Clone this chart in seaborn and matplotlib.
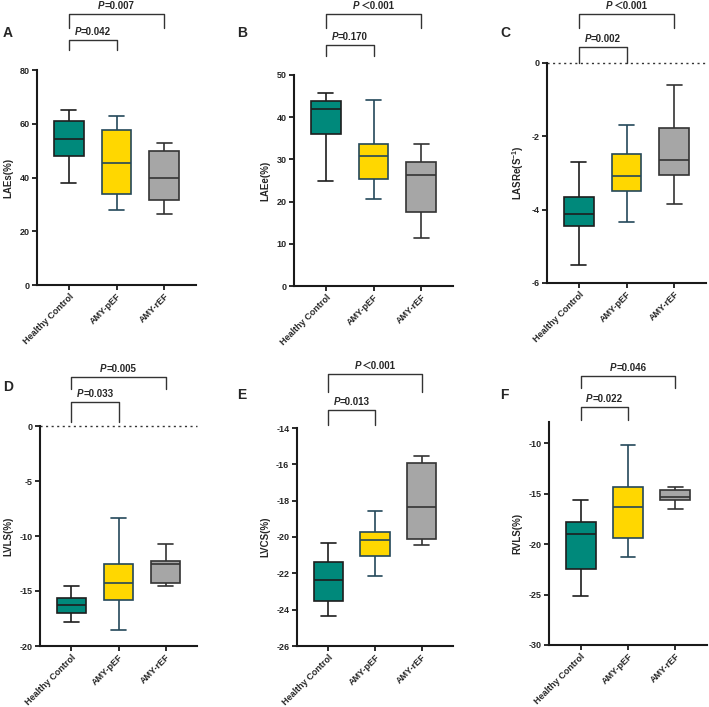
import pandas as pd
import matplotlib.pyplot as plt
import seaborn as sns
from matplotlib.transforms import blended_transform_factory, offset_copy

sns.set_style("ticks")
plt.rcParams['font.family'] = ['Liberation Sans', 'Noto Sans CJK SC', 'DejaVu Sans']
plt.rcParams['font.weight'] = 'bold'
plt.rcParams['mathtext.fontset'] = 'custom'
plt.rcParams['mathtext.it'] = 'Liberation Sans:italic:bold'
plt.rcParams['mathtext.rm'] = 'Liberation Sans:bold'

groups = ['Healthy Control', 'AMY-pEF', 'AMY-rEF']
fill_colors = ['#00897B', '#FFD700', '#A6A6A6']
edge_colors = ['#1E1E1E', '#24485A', '#333333']

# five-number summaries: min, Q1, median, Q3, max
laes = [[38, 48, 54.5, 61, 65], [28, 34, 45.5, 57.5, 63], [26.5, 31.5, 40, 50, 53]]
laee = [[25, 36, 42, 43.8, 45.8], [20.5, 25.3, 30.8, 33.6, 44], [11.3, 17.6, 26.3, 29.5, 33.6]]
lasre = [[-5.5, -4.45, -4.12, -3.65, -2.7], [-4.35, -3.5, -3.08, -2.48, -1.7], [-3.85, -3.05, -2.65, -1.77, -0.6]]
lvls = [[-17.8, -17.0, -16.3, -15.6, -14.5], [-18.5, -15.8, -14.3, -12.5, -8.4], [-14.5, -14.25, -12.5, -12.3, -10.7]]
lvcs = [[-24.35, -23.5, -22.35, -21.4, -20.35], [-22.15, -21.05, -20.15, -19.7, -18.55], [-20.45, -20.1, -18.35, -15.9, -15.55]]
rvls = [[-25.1, -22.5, -19.0, -17.8, -15.6], [-21.3, -19.4, -16.3, -14.3, -10.2], [-16.5, -15.6, -15.3, -14.6, -14.3]]

panels = ['A', 'B', 'C', 'D', 'E', 'F']
ylabels = ['LAEs(%)', 'LAEe(%)', r'LASRe(S$^{-1}$)', 'LVLS(%)', 'LVCS(%)', 'RVLS(%)']
p_near = ['=0.042', '=0.170', '=0.002', '=0.033', '=0.013', '=0.022']
p_far = ['=0.007', '＜0.001', '＜0.001', '=0.005', '＜0.001', '=0.046']
ylims = [(0, 80), (0, 50), (-6, 0), (-20, 0), (-26, -14), (-30, -7.9)]
yticks = [[0, 20, 40, 60, 80], [0, 10, 20, 30, 40, 50], [-6, -4, -2, 0],
          [-20, -15, -10, -5, 0], [-26, -24, -22, -20, -18, -16, -14], [-30, -25, -20, -15, -10]]
zero_line = [False, False, True, True, False, False]
all_data = [laes, laee, lasre, lvls, lvcs, rvls]

W, H = 709, 707
# axes boxes in pixels: left, top, right, bottom
boxes = [(37, 70, 196, 285), (294, 75, 453, 286), (547, 63, 706, 283),
         (40, 426, 197, 646), (297, 428, 453, 646), (549, 422, 707, 645)]
# bracket pixel rows: far bar, far leg end, near bar, near leg end
brackets = [(14, 28, 40, 50), (14, 28, 45, 56), (14, 28, 47, 63),
            (377, 389, 402, 422), (374, 392, 410, 425), (376, 388, 407, 420)]
letters = [(3, 33), (237, 33), (500, 33), (3, 387), (237, 395), (500, 395)]

fig = plt.figure(figsize=(W / 100, H / 100), dpi=100)
renderer = fig.canvas.get_renderer()


def p_label(ax, x, y, rest, tr):
    # italic bold "P" followed by the bold value, centred on x
    t1 = ax.text(x, y, 'P', transform=tr, fontsize=7, fontweight='bold', style='italic',
                 ha='left', va='bottom')
    t2 = ax.text(x, y, rest, transform=tr, fontsize=7, fontweight='bold',
                 ha='left', va='bottom')
    w1 = t1.get_window_extent(renderer).width
    w2 = t2.get_window_extent(renderer).width
    total = w1 + w2
    t1.set_transform(offset_copy(tr, fig=fig, x=-total / 2, units='dots'))
    t2.set_transform(offset_copy(tr, fig=fig, x=-total / 2 + w1, units='dots'))


for i in range(6):
    l, t, r, b = boxes[i]
    ax = fig.add_axes([l / W, 1 - b / H, (r - l) / W, (b - t) / H])
    rows = []
    for g, vals in zip(groups, all_data[i]):
        for v in vals:
            rows.append({'group': g, 'value': v})
    df = pd.DataFrame(rows)
    sns.boxplot(data=df, x='group', y='value', hue='group', order=groups,
                palette=fill_colors, saturation=1, whis=(0, 100), width=0.63,
                linewidth=1.2, linecolor='#1E1E1E', legend=False, ax=ax)

    # per-group edge colours
    for j, patch in enumerate(ax.patches):
        patch.set_edgecolor(edge_colors[j])
    nl = len(ax.lines) // 3
    for j in range(3):
        for ln in ax.lines[j * nl:(j + 1) * nl]:
            ln.set_color(edge_colors[j])
            ln.set_linewidth(1.2)

    if zero_line[i]:
        ax.axhline(0, ls=(0, (1.5, 2.5)), color='#333333', lw=1, clip_on=False, zorder=0)

    ax.set_xlim(-0.67, 2.67)
    ax.set_ylim(*ylims[i])
    ax.set_yticks(yticks[i])
    ax.set_yticklabels([str(v) for v in yticks[i]], fontsize=6.5, fontweight='bold')
    ax.set_xticks(range(3))
    ax.set_xticklabels(groups, rotation=45, ha='right', rotation_mode='anchor',
                       fontsize=6.5, fontweight='bold')
    ax.set_xlabel('')
    ax.set_ylabel(ylabels[i], fontsize=7, fontweight='bold', labelpad=4)
    for s in ['top', 'right']:
        ax.spines[s].set_visible(False)
    for s in ['left', 'bottom']:
        ax.spines[s].set_linewidth(1.5)
        ax.spines[s].set_color('#1a1a1a')
    ax.tick_params(width=1.3, length=3.5, pad=2, color='#1a1a1a')
    ax.tick_params(axis='x', pad=1.5)

    # significance brackets
    tr = blended_transform_factory(ax.transData, fig.transFigure)
    fb, fl, nb, nlg = brackets[i]
    fy = lambda p: 1 - p / H
    ax.plot([0, 0, 2, 2], [fy(fl), fy(fb), fy(fb), fy(fl)], color='#333333', lw=1,
            transform=tr, clip_on=False)
    ax.plot([0, 0, 1, 1], [fy(nlg), fy(nb), fy(nb), fy(nlg)], color='#333333', lw=1,
            transform=tr, clip_on=False)
    p_label(ax, 1, fy(fb - 3), p_far[i], tr)
    p_label(ax, 0.5, fy(nb - 3), p_near[i], tr)

    fig.text(letters[i][0] / W, 1 - letters[i][1] / H, panels[i], fontsize=10,
             fontweight='bold', va='center', ha='left')

fig.savefig('out.png', dpi=100)
